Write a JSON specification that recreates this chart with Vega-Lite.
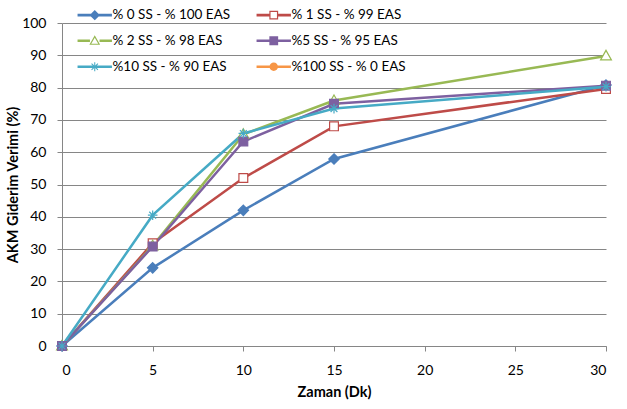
{
  "$schema": "https://vega.github.io/schema/vega-lite/v6.json",
  "width": 544,
  "height": 323,
  "autosize": "none",
  "padding": {"left": 62, "top": 23, "right": 21, "bottom": 63},
  "background": "white",
  "config": {
    "font": "Lato",
    "view": {"stroke": null},
    "axis": {
      "domainColor": "#868686",
      "tickColor": "#868686",
      "gridColor": "#868686",
      "labelColor": "black",
      "labelFontSize": 14,
      "titleFontSize": 14.5,
      "titleFontWeight": "bold",
      "titleColor": "black",
      "tickSize": 5
    }
  },
  "data": {
    "values": [
      {"series": "% 0 SS - % 100 EAS", "t": 0, "v": 0},
      {"series": "% 0 SS - % 100 EAS", "t": 5, "v": 24.2},
      {"series": "% 0 SS - % 100 EAS", "t": 10, "v": 42},
      {"series": "% 0 SS - % 100 EAS", "t": 15, "v": 57.9},
      {"series": "% 0 SS - % 100 EAS", "t": 30, "v": 80.8},
      {"series": "% 1 SS - % 99 EAS", "t": 0, "v": 0},
      {"series": "% 1 SS - % 99 EAS", "t": 5, "v": 31.8},
      {"series": "% 1 SS - % 99 EAS", "t": 10, "v": 52},
      {"series": "% 1 SS - % 99 EAS", "t": 15, "v": 68},
      {"series": "% 1 SS - % 99 EAS", "t": 30, "v": 79.6},
      {"series": "% 2 SS - % 98 EAS", "t": 0, "v": 0},
      {"series": "% 2 SS - % 98 EAS", "t": 5, "v": 31},
      {"series": "% 2 SS - % 98 EAS", "t": 10, "v": 65.5},
      {"series": "% 2 SS - % 98 EAS", "t": 15, "v": 76},
      {"series": "% 2 SS - % 98 EAS", "t": 30, "v": 89.8},
      {"series": "%5 SS - % 95 EAS", "t": 0, "v": 0},
      {"series": "%5 SS - % 95 EAS", "t": 5, "v": 30.8},
      {"series": "%5 SS - % 95 EAS", "t": 10, "v": 63.3},
      {"series": "%5 SS - % 95 EAS", "t": 15, "v": 75},
      {"series": "%5 SS - % 95 EAS", "t": 30, "v": 80.6},
      {"series": "%10 SS - % 90 EAS", "t": 0, "v": 0},
      {"series": "%10 SS - % 90 EAS", "t": 5, "v": 40.5},
      {"series": "%10 SS - % 90 EAS", "t": 10, "v": 65.8},
      {"series": "%10 SS - % 90 EAS", "t": 15, "v": 73.5},
      {"series": "%10 SS - % 90 EAS", "t": 30, "v": 80.3}
    ]
  },
  "encoding": {
    "x": {
      "field": "t",
      "type": "quantitative",
      "title": "Zaman (Dk)",
      "scale": {"domain": [0, 30]},
      "axis": {"values": [0, 5, 10, 15, 20, 25, 30], "grid": false, "labelPadding": 12, "titlePadding": 8}
    },
    "y": {
      "field": "v",
      "type": "quantitative",
      "title": "AKM Giderim Verimi (%)",
      "scale": {"domain": [0, 100]},
      "axis": {"values": [0, 10, 20, 30, 40, 50, 60, 70, 80, 90, 100], "grid": true, "labelPadding": 11, "titlePadding": 1}
    }
  },
  "layer": [
    {
      "mark": {"type": "line", "strokeWidth": 2.5},
      "encoding": {
        "color": {
          "field": "series",
          "type": "nominal",
          "scale": {
            "domain": ["% 0 SS - % 100 EAS", "% 1 SS - % 99 EAS", "% 2 SS - % 98 EAS", "%5 SS - % 95 EAS", "%10 SS - % 90 EAS", "%100 SS - % 0 EAS"],
            "range": ["#4A7EBB", "#BE4B48", "#98B954", "#7D60A0", "#46AAC5", "#F79646"]
          },
          "legend": null
        }
      }
    },
    {
      "mark": {"type": "point", "filled": true, "size": 64, "strokeWidth": 1.2, "opacity": 1},
      "encoding": {
        "stroke": {
          "field": "series",
          "type": "nominal",
          "scale": {
            "domain": ["% 0 SS - % 100 EAS", "% 1 SS - % 99 EAS", "% 2 SS - % 98 EAS", "%5 SS - % 95 EAS", "%10 SS - % 90 EAS", "%100 SS - % 0 EAS"],
            "range": ["#4A7EBB", "#BE4B48", "#98B954", "#7D60A0", "#46AAC5", "#F79646"]
          },
          "legend": null
        },
        "fill": {
          "field": "series",
          "type": "nominal",
          "scale": {
            "domain": ["% 0 SS - % 100 EAS", "% 1 SS - % 99 EAS", "% 2 SS - % 98 EAS", "%5 SS - % 95 EAS", "%10 SS - % 90 EAS", "%100 SS - % 0 EAS"],
            "range": ["#4A7EBB", "white", "white", "#7D60A0", "transparent", "#F79646"]
          },
          "legend": null
        },
        "shape": {
          "field": "series",
          "type": "nominal",
          "scale": {
            "domain": ["% 0 SS - % 100 EAS", "% 1 SS - % 99 EAS", "% 2 SS - % 98 EAS", "%5 SS - % 95 EAS", "%10 SS - % 90 EAS", "%100 SS - % 0 EAS"],
            "range": [
              "M0,-1.3L1.3,0L0,1.3L-1.3,0Z",
              "M-1.1,-1.1H1.1V1.1H-1.1Z",
              "M0,-1.4L1.35,1L-1.35,1Z",
              "M-1.1,-1.1H1.1V1.1H-1.1Z",
              "M-1.2,0H1.2M0,-1.2V1.2M-0.85,-0.85L0.85,0.85M-0.85,0.85L0.85,-0.85",
              "circle"
            ]
          },
          "legend": null
        }
      }
    },
    {
      "transform": [{"filter": "false"}],
      "mark": {"type": "point", "filled": true, "size": 64, "strokeWidth": 0, "opacity": 1},
      "encoding": {
        "fill": {
          "field": "series",
          "type": "nominal",
          "scale": {
            "domain": ["% 0 SS - % 100 EAS", "% 1 SS - % 99 EAS", "% 2 SS - % 98 EAS", "%5 SS - % 95 EAS", "%10 SS - % 90 EAS", "%100 SS - % 0 EAS"],
            "range": ["#4A7EBB", "#BE4B48", "#98B954", "#7D60A0", "#46AAC5", "#F79646"]
          },
          "legend": {
            "title": null, "orient": "none", "legendX": 26, "legendY": -15, "columns": 2, "direction": "horizontal",
            "columnPadding": 25, "rowPadding": 11, "symbolSize": 64, "symbolStrokeWidth": 0,
            "symbolOpacity": 1, "labelOffset": 11, "labelFontSize": 13.5, "labelColor": "black", "symbolLimit": 0
          }
        },
        "shape": {
          "field": "series",
          "type": "nominal",
          "scale": {
            "domain": ["% 0 SS - % 100 EAS", "% 1 SS - % 99 EAS", "% 2 SS - % 98 EAS", "%5 SS - % 95 EAS", "%10 SS - % 90 EAS", "%100 SS - % 0 EAS"],
            "range": [
              "M-4.3,-0.32H4.3V0.32H-4.3Z M0,-1.3L1.3,0L0,1.3L-1.3,0Z",
              "M-4.3,-0.32H-1.1V0.32H-4.3Z M1.1,-0.32H4.3V0.32H1.1Z M-1.1,-1.1H1.1V1.1H-1.1Z M-0.8,-0.8V0.8H0.8V-0.8Z",
              "M-4.3,-0.32H-1.2V0.32H-4.3Z M1.2,-0.32H4.3V0.32H1.2Z M0,-1.35L1.35,1L-1.35,1Z M0,-0.72L-0.87,0.72H0.87Z",
              "M-4.3,-0.32H4.3V0.32H-4.3Z M-1.1,-1.1H1.1V1.1H-1.1Z",
              "M-4.3,-0.32H4.3V0.32H-4.3Z M-1.1,-0.13H1.1V0.13H-1.1Z M-0.13,-1.1H0.13V1.1H-0.13Z M-0.708,-0.892L0.892,0.708L0.708,0.892L-0.892,-0.708Z M-0.708,0.892L-0.892,0.708L0.708,-0.892L0.892,-0.708Z",
              "M-4.3,-0.32H4.3V0.32H-4.3Z M-1.05,0A1.05,1.05,0,1,1,1.05,0A1.05,1.05,0,1,1,-1.05,0Z"
            ]
          },
          "legend": {
            "title": null, "orient": "none", "legendX": 26, "legendY": -15, "columns": 2, "direction": "horizontal",
            "columnPadding": 25, "rowPadding": 11, "symbolSize": 64, "symbolStrokeWidth": 0,
            "symbolOpacity": 1, "labelOffset": 11, "labelFontSize": 13.5, "labelColor": "black", "symbolLimit": 0
          }
        }
      }
    }
  ],
  "resolve": {"scale": {"fill": "independent", "shape": "independent"}}
}
